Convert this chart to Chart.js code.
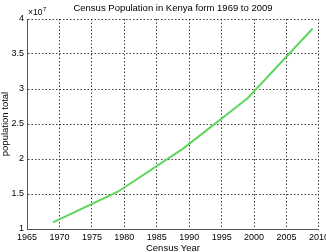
<!DOCTYPE html>
<html>
<head>
<meta charset="utf-8">
<script src="https://cdn.jsdelivr.net/npm/chart.js@4/dist/chart.umd.min.js"></script>
<style>
  html, body { margin: 0; padding: 0; background: #fff; overflow: hidden; width: 326px; height: 252px; }
  canvas { display: block; }
</style>
</head>
<body>
<canvas id="c" width="332" height="252"></canvas>
<script>
// Data (Kenya census)
const censusYears = [1969, 1979, 1989, 1999, 2009];
const populationTotal = [10942705, 15327061, 21448774, 28686607, 38610097];
const yTickValues = [1, 1.5, 2, 2.5, 3, 3.5, 4];     // ×10^7
const xTickYears = [1965, 1970, 1975, 1980, 1985, 1990, 1995, 2000, 2005, 2010];
const chartTitle = 'Census Population in Kenya form 1969 to 2009';
const xTitle = 'Census Year';
const yTitle = 'population total';
const exponentLabel = '7';

const FONT = "'Liberation Sans', Arial, Helvetica, sans-serif";

const exponentPlugin = {
  id: 'exponent',
  afterDraw(chart) {
    const ctx = chart.ctx;
    const a = chart.chartArea;
    ctx.save();
    ctx.fillStyle = '#000';
    ctx.textBaseline = 'alphabetic';
    ctx.textAlign = 'left';
    ctx.font = "8.5px " + FONT;
    const base = '\u00d710';
    ctx.fillText(base, a.left + 1, a.top - 4);
    const w = ctx.measureText(base).width;
    ctx.font = "6px " + FONT;
    ctx.fillText(exponentLabel, a.left + 1 + w + 0.5, a.top - 8);
    ctx.restore();
  }
};

const points = censusYears.map((yr, i) => ({ x: yr, y: populationTotal[i] }));

new Chart(document.getElementById('c'), {
  type: 'line',
  data: {
    datasets: [{
      data: points,
      borderColor: '#5cd65c',
      borderWidth: 2,
      pointRadius: 0,
      tension: 0,
      fill: false
    }]
  },
  options: {
    responsive: false,
    animation: false,
    layout: { padding: { left: 0, right: 13, top: 0, bottom: 0 } },
    plugins: {
      legend: { display: false },
      tooltip: { enabled: false },
      title: {
        display: true,
        fullSize: false,
        text: chartTitle,
        color: '#000',
        font: { family: FONT, size: 9.5, weight: 'normal', lineHeight: 1.2 },
        padding: { top: 3, bottom: 4.6 }
      }
    },
    scales: {
      x: {
        type: 'linear',
        min: xTickYears[0],
        max: xTickYears[xTickYears.length - 1],
        afterBuildTicks(scale) { scale.ticks = xTickYears.map(v => ({ value: v })); },
        ticks: {
          color: '#000',
          padding: 3,
          maxRotation: 0,
          autoSkip: false,
          font: { family: FONT, size: 9 },
          callback: v => String(v)
        },
        grid: {
          drawTicks: false,
          color: 'rgba(0,0,0,0.75)',
          lineWidth: 1
        },
        border: { display: true, color: '#555', width: 1, dash: [1.5, 2] },
        title: {
          display: true,
          text: xTitle,
          color: '#000',
          font: { family: FONT, size: 9.5, lineHeight: 0.8 },
          padding: { top: 0, bottom: 0 }
        },
        afterFit(scale) { scale.height = 23; }
      },
      y: {
        type: 'linear',
        min: yTickValues[0] * 1e7,
        max: yTickValues[yTickValues.length - 1] * 1e7,
        afterBuildTicks(scale) { scale.ticks = yTickValues.map(v => ({ value: v * 1e7 })); },
        ticks: {
          color: '#000',
          padding: 3,
          autoSkip: false,
          font: { family: FONT, size: 9 },
          callback: v => String(v / 1e7)
        },
        grid: {
          drawTicks: false,
          color: 'rgba(0,0,0,0.75)',
          lineWidth: 1
        },
        border: { display: true, color: '#555', width: 1, dash: [1.5, 2] },
        title: {
          display: true,
          text: yTitle,
          color: '#000',
          font: { family: FONT, size: 9.5, lineHeight: 1.2 },
          padding: { top: 0, bottom: 0 }
        },
        afterFit(scale) { scale.width = 27; }
      }
    }
  },
  plugins: [exponentPlugin]
});
</script>
</body>
</html>
